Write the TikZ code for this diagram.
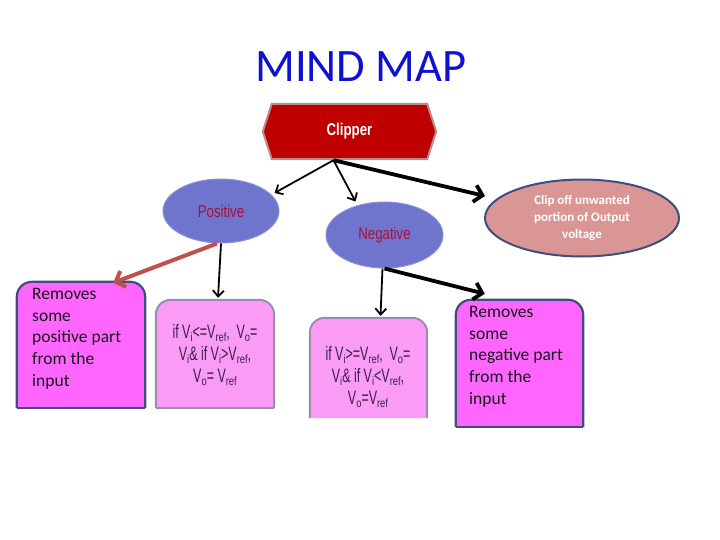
\documentclass[tikz,border=0pt]{standalone}
\usepackage{fontspec}
\setmainfont{Carlito}
\newfontfamily\narrowsans{Liberation Sans}[FakeStretch=0.78]
\newfontfamily\condsans{Liberation Sans}[FakeStretch=0.64]
\newcommand{\lowsub}[1]{\raisebox{-0.18em}{\narrowsans\fontsize{12}{12}\selectfont #1}}
\usetikzlibrary{shapes.geometric,arrows.meta,backgrounds,calc}
\definecolor{titleblue}{HTML}{1010D0}
\definecolor{clipred}{HTML}{C00000}
\definecolor{clipedge}{HTML}{B98C8C}
\definecolor{ellblue}{HTML}{6F74CC}
\definecolor{ellblueedge}{HTML}{8B90D8}
\definecolor{crimson}{HTML}{A8123E}
\definecolor{rosefill}{HTML}{D99694}
\definecolor{navyedge}{HTML}{3F4E7E}
\definecolor{magfill}{HTML}{FF66FF}
\definecolor{pinkfill}{HTML}{FA9CF6}
\definecolor{pinkedge}{HTML}{9C8DAF}
\definecolor{txtpurple}{HTML}{3D1F4A}
\definecolor{redarrow}{HTML}{C0504D}
\begin{document}
\begin{tikzpicture}[x=1pt,y=-1pt,
  titlestyle/.style={font=\fontsize{46.5}{52}\selectfont, text=titleblue, inner sep=0},
  hexnode/.style={minimum width=173pt, minimum height=55pt, inner sep=0,
    font=\narrowsans\bfseries\fontsize{17}{20}\selectfont, text=white},
  bluell/.style={ellipse, fill=ellblue, draw=ellblueedge, line width=1pt,
    font=\narrowsans\fontsize{17}{20}\selectfont, text=crimson, inner sep=0},
  boxnode/.style={minimum width=#1, inner sep=0},
  remtext/.style={font=\fontsize{17.5}{21.7}\selectfont, text=black!90, align=left, inner sep=0, anchor=north west},
  condtext/.style={font=\condsans\fontsize{19.5}{22}\selectfont, text=txtpurple, align=center, inner sep=0},
  thinarrow/.style={draw=black, line width=1.8pt, -{Straight Barb[length=6pt,width=11pt]}},
  thickarrow/.style={draw=black, line width=3.8pt, -{Straight Barb[length=8pt,width=17pt]}},
  redarr/.style={draw=redarrow, line width=4pt, -{Straight Barb[length=8pt,width=17pt]}},
  magbox/.style={fill=magfill, draw=navyedge, line width=2.2pt},
  pinkbox/.style={fill=pinkfill, draw=pinkedge, line width=2pt}
]
\useasboundingbox (0,0) rectangle (720,540);

% title
\node[titlestyle] (title) at (361,67) {MIND MAP};

% clipper
\node[hexnode] (clip) at (349.5,131.5) {Clipper};

% ellipses
\node[bluell, minimum width=116pt, minimum height=64pt] (pos) at (221,211) {Positive};
\node[bluell, minimum width=117pt, minimum height=66pt] (neg) at (384.5,235) {Negative};
\node[ellipse, fill=rosefill, draw=navyedge, line width=2pt,
  minimum width=194pt, minimum height=77pt, inner sep=0,
  font=\bfseries\fontsize{13}{17}\selectfont, text=white, align=center] (cl) at (582,218)
  {Clip off unwanted\\portion of Output\\voltage};

% boxes
\node[boxnode=128pt, minimum height=126pt] (bL) at (81,345) {};
\node[boxnode=118pt, minimum height=108pt] (b1) at (215,354) {};
\node[boxnode=117pt, minimum height=100pt] (b2) at (368.5,368) {};
\node[boxnode=127pt, minimum height=127pt] (bR) at (519.5,363.5) {};

\node[remtext] (bLt) at (32,288) {Removes\\some\\positive part\\from the\\input};
\node[remtext] (bRt) at (469,306) {Removes\\some\\negative part\\from the\\input};

\node[condtext] (b1t) at (215,355) {if V\lowsub{i}<=V\lowsub{ref},\, V\lowsub{o}=\\V\lowsub{i}\& if V\lowsub{i}>V\lowsub{ref},\\V\lowsub{o}= V\lowsub{ref}};
\node[condtext] (b2t) at (368,377) {if V\lowsub{i}>=V\lowsub{ref},\, V\lowsub{o}=\\V\lowsub{i}\& if V\lowsub{i}<V\lowsub{ref},\\V\lowsub{o}=V\lowsub{ref}};

\begin{scope}[on background layer]
  \filldraw[fill=clipred, draw=clipedge, line width=2pt]
    (clip.west) -- ($(clip.north west)+(9,0)$) -- ($(clip.north east)+(-9,0)$)
    -- (clip.east) -- ($(clip.south east)+(-9,0)$) -- ($(clip.south west)+(9,0)$) -- cycle;
  \filldraw[magbox, rounded corners=15pt] (bL.south west) -- (bL.north west) -- (bL.north east) -- (bL.south east);
  \draw[draw=navyedge, line width=2.2pt, line cap=square] (bL.south west) -- (bL.south east);
  \filldraw[magbox, rounded corners=15pt] (bR.south west) -- (bR.north west) -- (bR.north east) -- (bR.south east);
  \draw[draw=navyedge, line width=2.2pt, line cap=square] (bR.south west) -- (bR.south east);
  \filldraw[pinkbox, rounded corners=15pt] (b1.south west) -- (b1.north west) -- (b1.north east) -- (b1.south east);
  \draw[draw=pinkedge, line width=2pt, line cap=square] (b1.south west) -- (b1.south east);
  \filldraw[pinkbox, rounded corners=15pt] (b2.south west) -- (b2.north west) -- (b2.north east) -- (b2.south east);
\end{scope}

% connectors
\coordinate (cs) at ($(clip.south)+(-16,1)$);
\draw[thinarrow] (cs) -- ($(pos.east)+(-5,-18)$);
\draw[thinarrow] (cs) -- ($(neg.north)+(-29,0)$);
\draw[thickarrow] (cs) -- ($(cl.west)+(1,-22)$);
\draw[redarr] ($(pos.south)+(-4,0)$) -- ($(bL.north east)+(-32,1)$);
\draw[thinarrow] (pos.south) -- ($(b1.north)+(3,-2)$);
\draw[thinarrow] ($(neg.south)+(-2,0)$) -- ($(b2.north)+(12,-2)$);
\draw[thickarrow] (neg.south) -- ($(bR.north west)+(29,-6)$);
\end{tikzpicture}
\end{document}
